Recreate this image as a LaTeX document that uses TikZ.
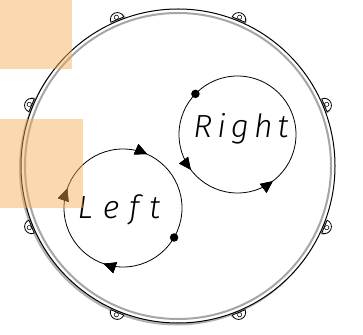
\documentclass[tikz,border=0pt]{standalone}
\usepackage{fontspec}
\usetikzlibrary{calc,arrows.meta,decorations.markings}
\newfontfamily\handfont{Fira Sans}[UprightFont=*-Light, ItalicFont=*-Light Italic]
\definecolor{peach}{RGB}{245,170,80}

\begin{document}
\begin{tikzpicture}[
    x=1pt, y=1pt,
    rim/.style={draw=black, line width=1pt, fill=white},
    ring/.style={draw=black!35, line width=2pt},
    lug/.style={draw=black, line width=0.8pt, fill=white},
    path/.style={draw, line width=0.8pt},
    tip/.style={postaction={decorate}, decoration={markings, mark=at position #1 with {\arrow{Triangle[length=12pt,width=11pt]}}}},
    dot/.style={circle, fill=black, inner sep=0pt, minimum size=8.5pt},
    word/.style={font=\handfont\itshape\fontsize{32}{32}\selectfont, anchor=base},
    patch/.style={fill=peach, fill opacity=0.45}
]
    \useasboundingbox (0,0) rectangle (363,334);
    \coordinate (drum) at (178,168);

    % Shadow
    \fill[black!30] ($(drum)+(-1.5,-2)$) circle (157.5);

    % Lugs
    \foreach \a in {22.5,67.5,...,337.5} {
        \begin{scope}[shift={(drum)}, rotate=\a]
            \fill[black!30] (157.5,-8.5) arc[start angle=-90, end angle=90, radius=7] -- cycle;
            \draw[lug] (158.5,-7) arc[start angle=-90, end angle=90, radius=7] -- cycle;
            \draw[line width=0.6pt] (161,0) circle (2.2);
        \end{scope}
    }

    % Drum head
    \draw[rim] (drum) circle (157);
    \draw[ring] (drum) circle (153);

    % Left
    \coordinate (lc) at (123,126);
    \draw[path, tip=0.303, tip=0.553, tip=0.817] (lc) ++(59,0) arc[start angle=0, end angle=-360, radius=59];
    \node[dot] (ldot) at ($(lc)+(-30:59)$) {};
    \node[word] (left) at (119,115) {L\kern10pt e\kern10pt f\kern10pt t};

    % Right
    \coordinate (rc) at (237.5,199.5);
    \draw[path, tip=0.603, tip=0.853] (rc) ++(58.5,0) arc[start angle=0, end angle=360, radius=58.5];
    \node[dot] (rdot) at ($(rc)+(136:58.5)$) {};
    \node[word] (right) at (241,196) {R\kern5pt i\kern5pt g\kern5pt h\kern5pt t};

    % Highlights
    \fill[patch] (0,334) rectangle (72,265);
    \fill[patch] (0,215) rectangle (83,126);
\end{tikzpicture}
\end{document}
